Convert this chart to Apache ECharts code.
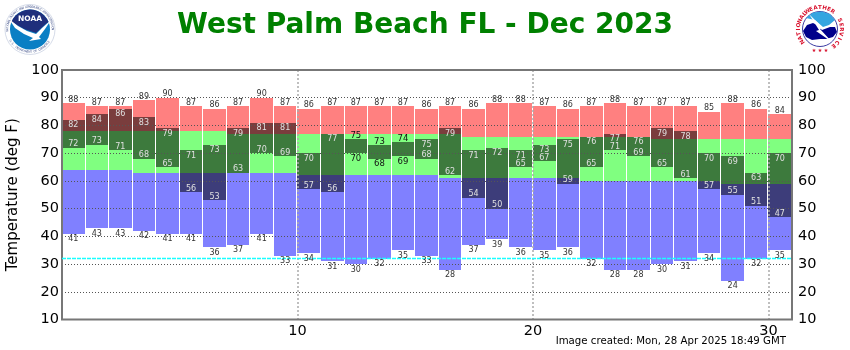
<!DOCTYPE html>
<html><head><meta charset="utf-8">
<style>html,body{margin:0;padding:0;background:#fff}#c{width:850px;height:350px}</style>
<script src="https://cdn.jsdelivr.net/npm/echarts@6/dist/echarts.min.js"></script>
</head><body><div id="c"></div>
<script>
const days = [1,2,3,4,5,6,7,8,9,10,11,12,13,14,15,16,17,18,19,20,21,22,23,24,25,26,27,28,29,30,31];
const recordHigh = [88,87,87,89,90,87,86,87,90,87,86,87,87,87,87,86,87,86,88,88,87,86,87,88,87,87,87,85,88,86,84];
const normalHigh = [78,78,78,78,78,78,78,77,77,77,77,77,77,77,77,77,77,76,76,76,76,76,76,76,76,75,75,75,75,75,75];
const normalLow  = [64,64,64,63,63,63,63,63,63,63,62,62,62,62,62,62,61,61,61,61,61,61,60,60,60,60,60,60,59,59,59];
const recordLow  = [41,43,43,42,41,41,36,37,41,33,34,31,30,32,35,33,28,37,39,36,35,36,32,28,28,30,31,34,24,32,35];
const obsHigh    = [82,84,86,83,79,71,73,79,81,81,70,77,75,73,74,75,79,71,72,71,73,75,76,77,76,79,78,70,69,63,70];
const obsLow     = [72,73,71,68,65,56,53,63,70,69,57,56,70,68,69,68,62,54,50,65,67,59,65,71,69,65,61,57,55,51,47];
const freezing = 32;
const xTicks = [10,20,30];
const titleText = 'West Palm Beach FL - Dec 2023';
const createdText = 'Image created: Mon, 28 Apr 2025 18:49 GMT';

const FONT = '"DejaVu Sans"';
function band(lo, hi) { return days.map((d,i)=>[d, lo[i], hi[i]]); }
function barRender(fill) {
  return function (params, api) {
    const d = api.value(0);
    const a = api.coord([d-1, api.value(2)]);
    const b = api.coord([d, api.value(1)]);
    const x0 = Math.round(a[0]), x1 = Math.round(b[0]) - 1, y0 = Math.round(a[1]), y1 = Math.round(b[1]);
    return {type:'rect',
      shape:{x:x0, y:y0, width:x1-x0, height:y1-y0},
      style:{fill:fill, stroke:'none', lineWidth:0}};
  };
}
function bandSeries(name, lo, hi, fill, z) {
  return {type:'custom', name, z, data:band(lo,hi), renderItem:barRender(fill),
          encode:{x:0,y:[1,2]}, silent:true, animation:false};
}
function labelRender(params, api) {
  const d = api.value(0), v = api.value(1), kind = api.value(2);
  const p = api.coord([d-0.5, v]);
  const off = [-3.5, 5.5, 5.5, -3.5, -3.5, 5.5][kind];
  const inner = kind===2||kind===3;
  const col = inner ? '#e0e0e0' : (kind>=4 ? '#111' : '#333');
  return {type:'text', x:p[0]-0.5, y:p[1]+off,
    style:{text:String(v), fill:col, font:(kind>=4?'8.5px ':'8px ')+FONT, align:'center', verticalAlign:'middle'}};
}
const labelData = [];
days.forEach((d,i)=>{
  labelData.push([d,recordHigh[i],0]);
  labelData.push([d,recordLow[i],1]);
  const close = obsHigh[i]-obsLow[i] <= 5;
  labelData.push([d,obsHigh[i],close?4:2]);
  labelData.push([d,obsLow[i],close?5:3]);
});

function ringText(text, cx, cy, r, startDeg, stepDeg, font, fill, flip) {
  return text.split('').map((ch,i)=>{
    const a = (startDeg + i*stepDeg)*Math.PI/180;
    return {type:'text', x:cx+r*Math.sin(a), y:cy-r*Math.cos(a), rotation: flip? Math.PI-a : -a,
      style:{text:ch, font, fill, align:'center', verticalAlign:'middle'}, silent:true};
  });
}
const poly = (points, fill, smooth) => ({type:'polygon', shape:{points, smooth:smooth||0}, style:{fill}});
const noaa = [
 {type:'circle',shape:{cx:30,cy:29.5,r:25},style:{fill:'#fff',stroke:'#b8c2d8',lineWidth:0.6}},
 {type:'circle',shape:{cx:30,cy:29.5,r:20},style:{fill:'#0a7fc4'}},
 {type:'sector',shape:{cx:30,cy:29.5,r:20,startAngle:Math.PI*1.12,endAngle:Math.PI*1.88},style:{fill:'#1f2f7c'}},
 poly([[12,22],[20,15],[30,12],[40,15],[48,22],[36,33],[24,29]],'#1f2f7c'),
 poly([[9,19],[18,26],[27,31],[36,34],[42,28],[51,20],[45,29],[39,37],[41,39],[29,41],[33,38],[24,34],[15,28]],'#fff'),
 {type:'text',x:30,y:19.5,style:{text:'NOAA',font:'bold 7.5px "DejaVu Sans"',fill:'#fff',align:'center',verticalAlign:'middle'}},
 ...ringText('NATIONAL OCEANIC AND ATMOSPHERIC ADMINISTRATION',30,29.5,22.5,-93,3.95,'3px "DejaVu Sans"','#4a5a90'),
 ...ringText('U.S. DEPARTMENT OF COMMERCE',30,29.5,22.5,240,-4.5,'3px "DejaVu Sans"','#4a5a90',true)
];
const nws = [
 {type:'circle',shape:{cx:820,cy:29,r:25},style:{fill:'#fff'}},
 {type:'circle',shape:{cx:820,cy:29,r:17.5},style:{fill:'#fff',stroke:'#0a0a8a',lineWidth:0.8}},
 poly([[806,18],[813,12.5],[822,11.5],[830,14],[835,20],[829,25],[823,27],[815,20]],'#35a5e0'),
 poly([[803,31],[807,25],[813,23],[817,25],[822,30],[830,27],[835,27],[837,32],[833,37],[826,39],[820,39],[812,40],[806,37]],'#00008b'),
 poly([[809,14],[823,28],[820,29],[832,42],[816,31],[819,30]],'#fff'),
 ...ringText('WEATHER',820,29,21.5,-36,12,'bold 5.5px "DejaVu Sans"','#d8102c'),
 ...ringText('SERVICE',820,29,21.5,66,12.5,'bold 5.5px "DejaVu Sans"','#d8102c'),
 ...ringText('NATIONAL',820,29,21.5,-126,11.5,'bold 5.5px "DejaVu Sans"','#d8102c'),
 {type:'text',x:820,y:51,style:{text:'★ ★ ★',font:'5px "DejaVu Sans"',fill:'#d8102c',align:'center',verticalAlign:'middle'}}
];

const chart = echarts.init(document.getElementById('c'), null, {renderer:'canvas', width:850, height:350});
const yCommon = {
  type:'value', min:10, max:100, interval:10, z:5,
  axisLine:{show:false}, axisTick:{show:false},
  axisLabel:{color:'#000', fontFamily:FONT, fontSize:14.5, margin:3}
};
chart.setOption({
  animation:false,
  backgroundColor:'#fff',
  title:{text:titleText, left:420, top:7, textAlign:'center',
    textStyle:{fontFamily:FONT, fontWeight:'bold', fontSize:28, color:'#008000'}},
  grid:{left:62, top:70, width:730, height:249.5, show:true, borderColor:'#777', borderWidth:2, backgroundColor:'transparent', z:6, outerBoundsMode:'none', containLabel:false},
  xAxis:{type:'value', min:0, max:31, interval:10, z:4, position:'bottom',
    axisLine:{show:false}, axisTick:{show:false},
    splitLine:{show:true, lineStyle:{type:[2,2], color:'#aaa', width:1.5}},
    axisLabel:{color:'#000', fontFamily:FONT, fontSize:14.5, margin:4, showMinLabel:false, showMaxLabel:false,
      formatter:v=>xTicks.includes(v)?String(v):''}},
  yAxis:[
    {...yCommon, position:'left', name:'Temperature (deg F)', nameLocation:'middle', nameGap:32,
      nameTextStyle:{color:'#000', fontFamily:FONT, fontSize:15},
      splitLine:{show:true, lineStyle:{type:[1,2], color:'#555', width:1}}},
    {...yCommon, position:'right', axisLabel:{...yCommon.axisLabel, margin:6}, splitLine:{show:false}}
  ],
  series:[
    bandSeries('Record high range', normalHigh, recordHigh, '#ff8080', 2),
    bandSeries('Normal range', normalLow, normalHigh, '#80ff80', 2),
    bandSeries('Record low range', recordLow, normalLow, '#8080ff', 2),
    bandSeries('Observed', obsLow, obsHigh, 'rgba(0,0,0,.52)', 3),
    {type:'custom', name:'Labels', z:7, data:labelData, renderItem:labelRender, encode:{x:0,y:1}, silent:true, animation:false},
    {type:'line', name:'Freezing', z:6, data:[[0,freezing],[31,freezing]], symbol:'none', silent:true,
      lineStyle:{color:'#19ffff', width:1.5, type:[4,1]}}
  ],
  graphic:[
    ...noaa, ...nws,
    {type:'text', right:64, top:336, style:{text:createdText, font:'10.2px '+FONT, fill:'#000'}}
  ]
});
</script></body></html>
